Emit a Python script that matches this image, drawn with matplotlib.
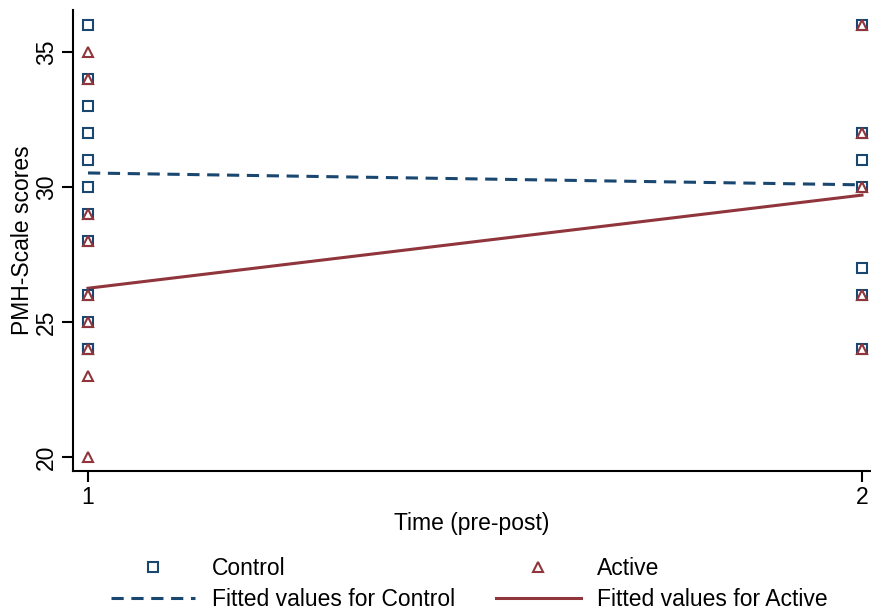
import numpy as np
import matplotlib.pyplot as plt
from matplotlib.lines import Line2D

plt.rcParams['font.family'] = ['Liberation Sans', 'DejaVu Sans']

# scores at each time point (pre = 1, post = 2)
control_time = [1, 1, 1, 1, 1, 1, 1, 1, 1, 1, 1, 1,
                2, 2, 2, 2, 2, 2, 2]
control_score = [36, 34, 33, 32, 31, 30, 29, 28, 26, 25, 24, 24,
                 36, 32, 31, 30, 27, 26, 24]

active_time = [1, 1, 1, 1, 1, 1, 1, 1, 1,
               2, 2, 2, 2, 2]
active_score = [35, 34, 29, 28, 26, 25, 24, 23, 20,
                36, 32, 30, 26, 24]

# fitted values (linear fit) at the two time points
fit_time = [1, 2]
fit_control = [30.52, 30.08]
fit_active = [26.25, 29.70]

navy = '#1a476f'
maroon = '#90353b'
fs = 16.5

fig = plt.figure(figsize=(8.71, 6.15), dpi=100)
ax = fig.add_axes([73 / 871, 1 - 471 / 615, 1 - 73 / 871, (471 - 10) / 615])

ax.plot(control_time, control_score, 's', ms=6.5, mfc='none', mec=navy, mew=1.5,
        linestyle='none', zorder=3)
ax.plot(active_time, active_score, '^', ms=7, mfc='none', mec=maroon, mew=1.5,
        linestyle='none', zorder=4)
ax.plot(fit_time, fit_control, color=navy, lw=2.2, dashes=(4, 2.5), zorder=2)
ax.plot(fit_time, fit_active, color=maroon, lw=2.2, zorder=2)

ax.set_xlim(1 - 15 / 774, 2 + 9 / 774)
ax.set_ylim(20 - 14 / 27, 36 + 15 / 27)

ax.set_xticks([1, 2])
ax.set_yticks([20, 25, 30, 35])
for lbl in ax.get_yticklabels():
    lbl.set_rotation(90)
    lbl.set_va('center')
ax.tick_params(axis='both', labelsize=fs, length=8, width=1.5, direction='out', pad=3)

ax.spines['top'].set_visible(False)
ax.spines['right'].set_visible(False)
ax.spines['left'].set_linewidth(1.5)
ax.spines['bottom'].set_linewidth(1.5)

ax.set_xlabel('Time (pre-post)', fontsize=fs, labelpad=2)
ax.set_ylabel('PMH-Scale scores', fontsize=fs, labelpad=0.5)

handles = [
    Line2D([], [], marker='s', ms=6.5, mfc='none', mec=navy, mew=1.5, linestyle='none'),
    Line2D([], [], color=navy, lw=2.2, dashes=(4, 2.5)),
    Line2D([], [], marker='^', ms=7, mfc='none', mec=maroon, mew=1.5, linestyle='none'),
    Line2D([], [], color=maroon, lw=2.2),
]
labels = ['Control', 'Fitted values for Control', 'Active', 'Fitted values for Active']
fig.legend(handles, labels, ncol=2, loc='center', bbox_to_anchor=(469 / 871, 1 - 584 / 615),
           frameon=False, fontsize=fs, handlelength=3.7, handletextpad=0.7,
           columnspacing=1.8, labelspacing=0.35, borderpad=0)

plt.savefig('out.png', dpi=100)
